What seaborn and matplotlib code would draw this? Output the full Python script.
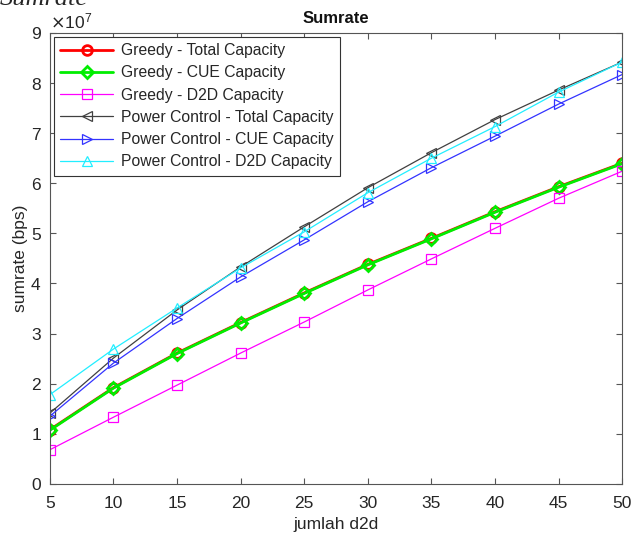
import numpy as np
import pandas as pd
import matplotlib
matplotlib.use("Agg")
import matplotlib.pyplot as plt
import matplotlib.ticker as mticker
import seaborn as sns

# Data (in units of 1e7 bps)
jumlah_d2d = [5, 10, 15, 20, 25, 30, 35, 40, 45, 50]
greedy_total = [1.08, 1.92, 2.61, 3.22, 3.81, 4.38, 4.90, 5.43, 5.93, 6.40]
greedy_cue = [1.07, 1.91, 2.60, 3.21, 3.80, 4.37, 4.89, 5.42, 5.92, 6.39]
greedy_d2d = [0.68, 1.33, 1.97, 2.61, 3.23, 3.87, 4.49, 5.10, 5.70, 6.24]
pc_total = [1.41, 2.51, 3.47, 4.33, 5.13, 5.91, 6.61, 7.27, 7.86, 8.42]
pc_cue = [1.35, 2.41, 3.30, 4.13, 4.87, 5.63, 6.31, 6.94, 7.58, 8.17]
pc_d2d = [1.78, 2.69, 3.51, 4.31, 5.03, 5.81, 6.50, 7.13, 7.82, 8.42]

series = [
    ("Greedy - Total Capacity", greedy_total, "#ff0000", "o", 2.0),
    ("Greedy - CUE Capacity", greedy_cue, "#00ee00", "D", 2.0),
    ("Greedy - D2D Capacity", greedy_d2d, "#ff00ff", "s", 0.9),
    ("Power Control - Total Capacity", pc_total, "#404040", "<", 0.9),
    ("Power Control - CUE Capacity", pc_cue, "#3333ff", ">", 0.9),
    ("Power Control - D2D Capacity", pc_d2d, "#22eeff", "^", 0.9),
]

sns.set_style("ticks")
plt.rcParams["font.family"] = ["Liberation Sans", "DejaVu Sans"]

fig = plt.figure(figsize=(6.31, 5.40), dpi=100)
ax = fig.add_axes([0.079, 0.104, 0.907, 0.835])

for label, vals, color, marker, lw in series:
    df = pd.DataFrame({"x": jumlah_d2d, "y": np.array(vals) * 1e7})
    msize = 6 if marker == "D" else 7
    sns.lineplot(data=df, x="x", y="y", ax=ax, color=color, linewidth=lw,
                 marker=marker, markersize=msize, markerfacecolor="none",
                 markeredgecolor=color, markeredgewidth=lw if lw > 1 else 0.9,
                 label=label)

ax.set_xlim(5, 50)
ax.set_ylim(0, 9e7)
ax.set_xticks(jumlah_d2d)
ax.set_yticks(np.arange(0, 10) * 1e7)
fmt = mticker.ScalarFormatter(useMathText=True)
fmt.set_powerlimits((0, 0))
ax.yaxis.set_major_formatter(fmt)
ax.yaxis.get_offset_text().set_fontsize(12.5)
ax.yaxis.get_offset_text().set_color("#262626")

gray = "#262626"
for s in ax.spines.values():
    s.set_color("#555555")
    s.set_linewidth(0.8)
ax.tick_params(direction="in", top=True, right=True, length=4,
               labelsize=12.5, colors="#555555", labelcolor=gray)
ax.tick_params(axis="x", pad=9)
ax.tick_params(axis="y", pad=6)
ax.set_xlabel("jumlah d2d", fontsize=12.5, color=gray, labelpad=4)
ax.set_ylabel("sumrate (bps)", fontsize=12.5, color=gray, labelpad=2)
ax.set_title("Sumrate", fontsize=12, fontweight="bold", color="#111111", pad=7)

leg = ax.legend(loc="upper left", fontsize=11.3, frameon=True, fancybox=False,
                framealpha=1, edgecolor="#333333", handlelength=3.4,
                borderaxespad=0.25, labelspacing=0.46, borderpad=0.4,
                handletextpad=0.5)
leg.get_frame().set_linewidth(0.8)
for t in leg.get_texts():
    t.set_color(gray)

# cropped italic caption at the very top
fig.text(0.0, 1 - 5 / 540, "Sumrate", fontsize=19, style="italic",
         family=["Liberation Serif", "DejaVu Serif"], va="baseline", ha="left")

fig.savefig("out.png", dpi=100)
